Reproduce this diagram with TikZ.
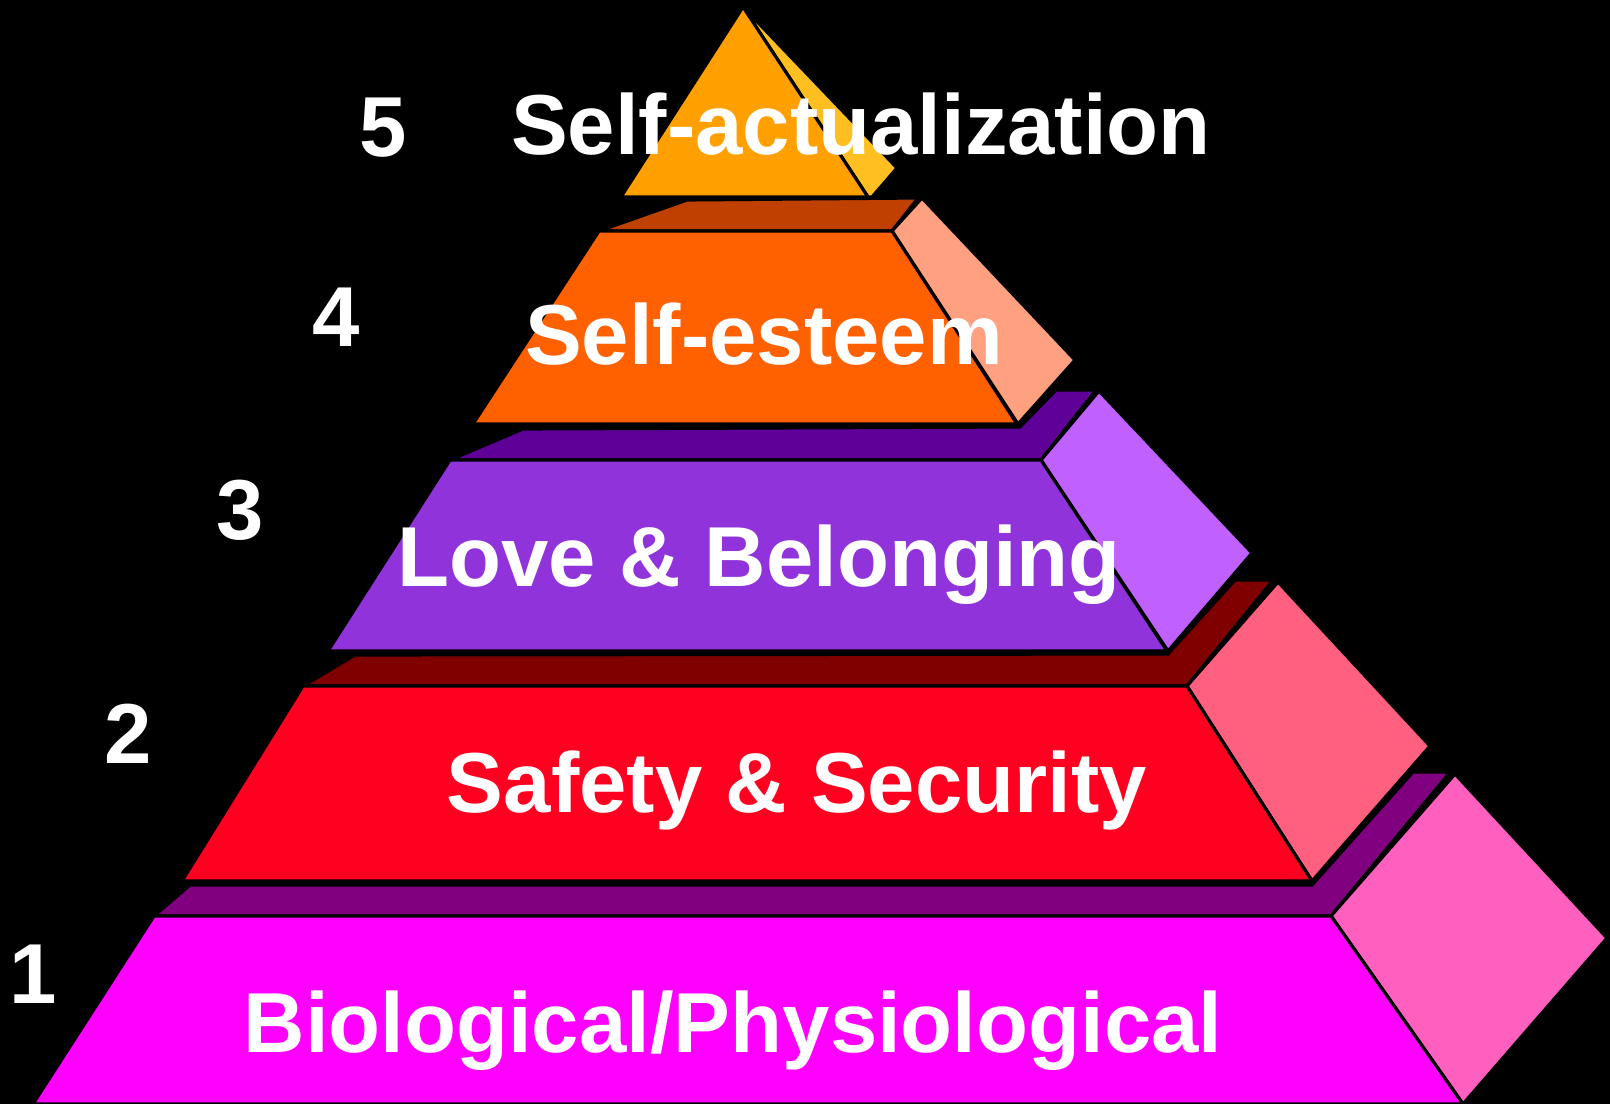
\documentclass[tikz,border=0pt]{standalone}
\usepackage{fontspec}
\setmainfont{Liberation Sans}
\usepackage{xcolor}
\definecolor{bioFront}{HTML}{FF00FF}\definecolor{bioTop}{HTML}{800080}\definecolor{bioSide}{HTML}{FF5FBF}
\definecolor{safeFront}{HTML}{FF0020}\definecolor{safeTop}{HTML}{800000}\definecolor{safeSide}{HTML}{FF6080}
\definecolor{loveFront}{HTML}{9033DB}\definecolor{loveTop}{HTML}{5F0099}\definecolor{loveSide}{HTML}{BF60FF}
\definecolor{estFront}{HTML}{FF6000}\definecolor{estTop}{HTML}{BF4000}\definecolor{estSide}{HTML}{FFA080}
\definecolor{actFront}{HTML}{FFA000}\definecolor{actSide}{HTML}{FFBF20}
\begin{document}
\begin{tikzpicture}[x=0.01cm,y=-0.01cm,
face/.style={draw=black,line width=0.9pt},
lbl/.style={text=white,inner sep=0pt,anchor=base,font=\bfseries\fontsize{24.2}{29}\selectfont}]
\useasboundingbox (0,0) rectangle (1610,1104);
\fill[black] (0,0) rectangle (1610,1104);
% level 1
\filldraw[face,fill=bioTop](154,916)--(190,885)--(1312,885)--(1413,772)--(1450,772)--(1331,916)--cycle;
\filldraw[face,fill=bioSide](1331,916)--(1455,774)--(1607,938)--(1463,1104)--cycle;
\filldraw[face,fill=bioFront](154,916)--(1331,916)--(1463,1104)--(33,1104)--cycle;
% level 2
\filldraw[face,fill=safeTop](303,686)--(355,655)--(1168,654)--(1235,580)--(1273,580)--(1187,686)--cycle;
\filldraw[face,fill=safeSide](1187,686)--(1278,582)--(1430,746)--(1312,881)--cycle;
\filldraw[face,fill=safeFront](303,686)--(1187,686)--(1312,881)--(182,881)--cycle;
% level 3
\filldraw[face,fill=loveTop](450,460)--(523,429)--(1020,427)--(1056,390)--(1096,390)--(1041,460)--cycle;
\filldraw[face,fill=loveSide](1041,460)--(1099,391)--(1252,553)--(1168,651)--cycle;
\filldraw[face,fill=loveFront](450,460)--(1041,460)--(1167,651)--(328,651)--cycle;
% level 4
\filldraw[face,fill=estTop](599,231)--(687,200)--(918,198)--(892,231)--cycle;
\filldraw[face,fill=estSide](892,231)--(922,198)--(1075,360)--(1018,424)--cycle;
\filldraw[face,fill=estFront](599,231)--(892,231)--(1017,424)--(473,424)--cycle;
% level 5
\filldraw[face,fill=actSide](743,7)--(897,168)--(872,197)--(868,197)--cycle;
\filldraw[face,fill=actFront](743,7)--(868,197)--(621,197)--cycle;
% labels
\node[lbl](act) at(861,155){Self-actualization};
\node[lbl](est) at(764,365){Self-esteem};
\node[lbl](love) at(759,587){Love \& Belonging};
\node[lbl](safe) at(797,812){Safety \& Security};
\node[lbl](bio) at(733,1052){Biological/Physiological};
\node[lbl](n5) at(383,157){5};\node[lbl](n4) at(336,347){4};\node[lbl](n3) at(240,540){3};
\node[lbl](n2) at(128,763){2};\node[lbl](n1) at(33,1003){1};
\end{tikzpicture}
\end{document}
